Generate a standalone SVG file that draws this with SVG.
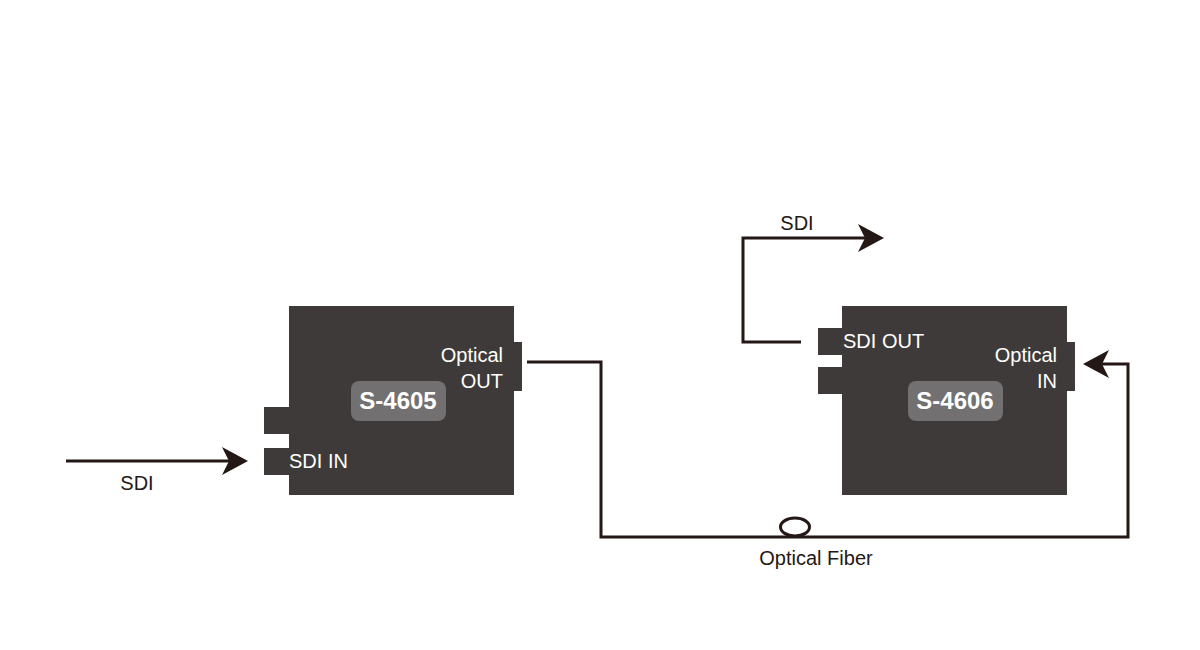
<svg xmlns="http://www.w3.org/2000/svg" width="1200" height="650" viewBox="0 0 1200 650">
<style>
.box{fill:#3e3a39}
.tag{fill:#727071}
.in{font-family:"Liberation Sans",Arial,sans-serif;font-size:20px;fill:#ffffff}
.tt{font-family:"Liberation Sans",Arial,sans-serif;font-size:24px;font-weight:bold;fill:#ffffff;text-anchor:middle}
.lbl{font-family:"Liberation Sans",Arial,sans-serif;font-size:20px;fill:#231815}
.wire{fill:none;stroke:#231815;stroke-width:3}
</style>
<defs>
<marker id="arr" viewBox="0 -15 27 30" refX="10" refY="0" markerWidth="27" markerHeight="30" markerUnits="userSpaceOnUse" orient="auto">
<path d="M26,0 L0,-14 L7,0 L0,14 Z" fill="#231815"/>
</marker>
</defs>
<rect width="1200" height="650" fill="#ffffff"/>
<g id="connectors">
<path class="wire" d="M66,461 H232" marker-end="url(#arr)"/>
<path class="wire" d="M801,342 H743 V238 H868" marker-end="url(#arr)"/>
<path class="wire" d="M527,362 H601 V537 H1128 V364 H1099" marker-end="url(#arr)"/>
<ellipse cx="795" cy="527" rx="14.5" ry="9" fill="#ffffff" stroke="#231815" stroke-width="3"/>
<text class="lbl" x="137" y="490" text-anchor="middle">SDI</text>
<text class="lbl" x="797" y="230" text-anchor="middle">SDI</text>
<text class="lbl" x="816" y="565" text-anchor="middle">Optical Fiber</text>
</g>
<g id="s4605">
<rect class="box" x="289" y="306" width="225" height="189"/>
<rect class="box" x="264" y="407" width="26" height="27"/>
<rect class="box" x="264" y="448" width="26" height="27"/>
<rect class="box" x="513" y="342" width="9" height="49"/>
<rect class="tag" x="351" y="381" width="95" height="40" rx="8"/>
<text class="tt" x="398" y="409">S-4605</text>
<text class="in" x="503" y="362" text-anchor="end">Optical</text>
<text class="in" x="503" y="388" text-anchor="end">OUT</text>
<text class="in" x="289" y="468">SDI IN</text>
</g>
<g id="s4606">
<rect class="box" x="842" y="306" width="225" height="189"/>
<rect class="box" x="818" y="328" width="25" height="27"/>
<rect class="box" x="818" y="367" width="25" height="27"/>
<rect class="box" x="1066" y="342" width="9" height="49"/>
<rect class="tag" x="908" y="381" width="95" height="40" rx="8"/>
<text class="tt" x="955" y="409">S-4606</text>
<text class="in" x="843" y="348">SDI OUT</text>
<text class="in" x="1057" y="362" text-anchor="end">Optical</text>
<text class="in" x="1057" y="388" text-anchor="end">IN</text>
</g>
</svg>
